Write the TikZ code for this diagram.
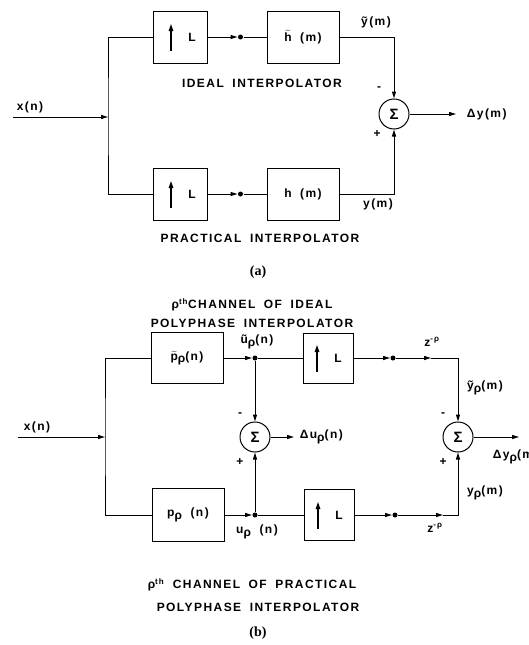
\documentclass[tikz,border=0pt]{standalone}
\usepackage{fontspec}
\setmainfont{Liberation Serif}
\newfontfamily\lett{Liberation Sans Bold}[LetterSpace=12,WordSpace=1.8]
\usetikzlibrary{arrows.meta, positioning}
\newcommand\tld[1]{\ensuremath{\widetilde{\mbox{#1}}}}
\newcommand\lowr[1]{\raisebox{-0.4ex}{#1}}

\begin{document}
\begin{tikzpicture}[
    x=1pt, y=-1pt, line width=1pt,
    >={Triangle[length=7pt,width=4pt]},
    every node/.style={font=\lett\fontsize{12}{14}\selectfont},
    lbox/.style={rectangle, draw, minimum width=54pt, minimum height=52pt, inner sep=0pt},
    fbox/.style={rectangle, draw, minimum width=72pt, minimum height=52pt, inner sep=0pt},
    sumnode/.style={circle, draw, minimum size=30pt, inner sep=0pt, font=\lett\fontsize{15}{16}\selectfont},
    tap/.style={circle, fill, minimum size=5pt, inner sep=0pt},
    sign/.style={font=\lett\fontsize{12}{12}\selectfont},
    caption/.style={font=\bfseries\fontsize{14}{16}\selectfont},
]
    \useasboundingbox (0,0) rectangle (529,645);

    % (a) ideal and practical interpolator
    \coordinate (xa) at (13,117);
    \coordinate (bra) at (108,117);
    \node[lbox] (upa) at (180,37) {\hspace*{24pt}L};
    \node[fbox, right=59pt of upa] (hta) {\tld{h} (m)};
    \node[lbox, below=104pt of upa] (upb) {\hspace*{24pt}L};
    \node[fbox, right=59pt of upb] (hb) {h (m)};
    \node[tap, right=30pt of upa.east] (ta) {};
    \node[tap, right=30pt of upb.east] (tb) {};
    \node[sumnode] (suma) at (394,114) {Σ};
    \coordinate (outa) at (456,114);

    \draw[->] (xa) -- (bra);
    \draw (upa.west) -| (bra) |- (upb.west);
    \draw[->] (upa) -- (ta);
    \draw (ta) -- (hta);
    \draw[->] (upb) -- (tb);
    \draw (tb) -- (hb);
    \draw[->] (hta.east) -| (suma);
    \draw[->] (hb.east) -| (suma);
    \draw[->] (suma) -- (outa);

    \node (lxa) at (30,107) {x(n)};
    \node (lyta) at (376,22) {ỹ(m)};
    \node (lya) at (378,204) {y(m)};
    \node[sign] (ma) at (379,89) {-};
    \node[sign] (pa) at (377,134) {+};
    \node[anchor=west] (lda) at (463,114) {Δy(m)};
    \node (tidl) at (262,83) {IDEAL INTERPOLATOR};
    \node (tprc) at (260,238) {PRACTICAL INTERPOLATOR};
    \node[caption] (capa) at (258,272) {(a)};

    % (b) rho-th polyphase channel
    \coordinate (xb) at (18,437);
    \coordinate (brb) at (105,437);
    \node[fbox, minimum height=51pt] (ptb) at (187,358) {\tld{p}\lowr{ρ}(n)};
    \node[tap] (tc) at (255,358) {};
    \node[lbox, minimum width=50pt, minimum height=50pt] (upc) at (328,358) {\hspace*{20pt}L};
    \node[tap] (td) at (393,358) {};
    \coordinate (zc) at (431,358);
    \node[fbox, minimum height=53pt] (pb) at (188,515) {p\lowr{ρ} (n)};
    \node[tap] (te) at (255,515) {};
    \node[lbox, minimum width=50pt, minimum height=51pt] (upd) at (329,515) {\hspace*{20pt}L};
    \node[tap] (tf) at (395,515) {};
    \coordinate (zd) at (443,515);
    \node[sumnode] (sumb) at (255,437) {Σ};
    \node[sumnode] (sumc) at (458,437) {Σ};
    \coordinate (outb) at (294,437);
    \coordinate (outc) at (519,437);

    \draw[->] (xb) -- (brb);
    \draw (ptb.west) -| (brb) |- (pb.west);
    \draw[->] (ptb) -- (tc);
    \draw (tc) -- (upc);
    \draw[->] (upc) -- (td);
    \draw[->] (td) -- (zc);
    \draw[->] (zc) -| (sumc);
    \draw[->] (pb) -- (te);
    \draw (te) -- (upd);
    \draw[->] (upd) -- (tf);
    \draw[->] (tf) -- (zd);
    \draw[->] (zd) -| (sumc);
    \draw[->] (tc) -- (sumb);
    \draw[->] (te) -- (sumb);
    \draw[->] (sumb) -- (outb);
    \draw[->] (sumc) -- (outc);

    % up-sampler arrows
    \foreach \b/\dx in {upa/-9, upb/-9, upc/-11, upd/-11}
        \draw[line width=1.3pt, -{Triangle[length=7pt,width=4.5pt]}] ([xshift=\dx pt, yshift=-14pt]\b.center) -- ([xshift=\dx pt, yshift=13pt]\b.center);

    \node (lxb) at (37,427) {x(n)};
    \node (lutb) at (257,342) {ũ\lowr{ρ}(n)};
    \node (lub) at (257,532) {u\lowr{ρ} (n)};
    \node (lzc) at (432,342) {z\textsuperscript{-ρ}};
    \node (lzd) at (435,528) {z\textsuperscript{-ρ}};
    \node (lytb) at (485,388) {ỹ\lowr{ρ}(m)};
    \node (lyb) at (485,493) {y\lowr{ρ}(m)};
    \node[sign] (mb) at (240,415) {-};
    \node[sign] (pb2) at (240,462) {+};
    \node[sign] (mc) at (443,415) {-};
    \node[sign] (pc) at (443,462) {+};
    \node[anchor=west] (ldu) at (296,437) {Δu\lowr{ρ}(n)};
    \node[anchor=west] (ldy) at (489,457) {Δy\lowr{ρ}(m)};
    \node (tid1) at (252,305) {ρ\textsuperscript{th}CHANNEL OF IDEAL};
    \node (tid2) at (252,323) {POLYPHASE INTERPOLATOR};
    \node (tpr1) at (252,585) {ρ\textsuperscript{th} CHANNEL OF PRACTICAL};
    \node (tpr2) at (258,607) {POLYPHASE INTERPOLATOR};
    \node[caption] (capb) at (258,633) {(b)};
\end{tikzpicture}
\end{document}
